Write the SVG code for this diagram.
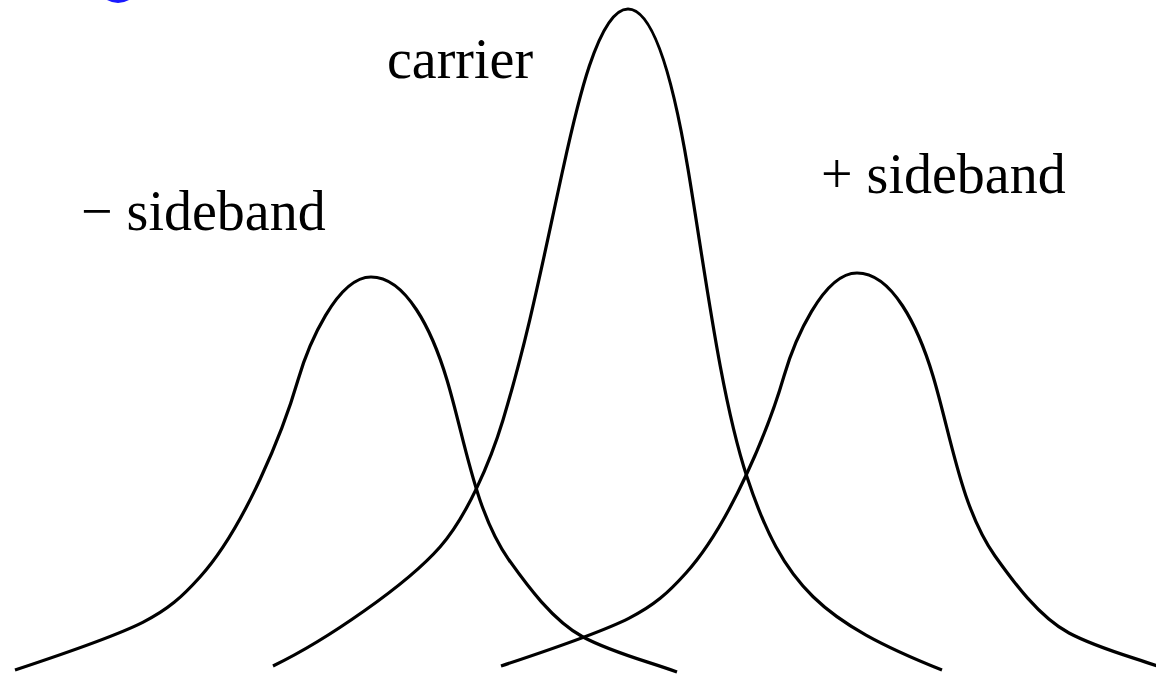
<svg xmlns="http://www.w3.org/2000/svg" width="1156" height="678" viewBox="0 0 1156 678">
  <style>
    .curve { fill: none; stroke: #000; stroke-width: 3.2; stroke-linejoin: round; stroke-linecap: butt; }
    .lbl { font-family: "Liberation Serif", "Times New Roman", serif; font-size: 56px; fill: #000; }
  </style>
  <defs>
    <path id="sideband-shape" d="M -356 393 C -226 350 -207 340 -171 300 C -126 250 -87.5 153 -73 103 C -62.8 68 -34 0 0 0 C 35 0 61 53 76 103 C 94 163 104 235 138 283 C 155.75 308 182 344 212 360 C 242 376 276 384 306 395"/>
  </defs>
  <rect width="1156" height="678" fill="#fff"/>
  <path id="link-fragment" d="M107 0 Q118 6 129 0 Z" fill="#1a1aff"/>
  <g id="curves">
    <g id="minus-sideband-curve"><use href="#sideband-shape" class="curve" transform="translate(371 277)"/></g>
    <g id="carrier-curve"><path class="curve" transform="translate(628 9)" d="M -355 657 C -301 631 -221 575.5 -188 538 C -161.6 508 -138 454 -125 411 C -99 324.6 -84.8 250 -65 160 C -51.8 100 -30 0 0 0 C 30 0 50 100 60 160 C 76.7 260 92.6 388 119 468 C 155.3 578 194 613 314 661"/></g>
    <g id="plus-sideband-curve"><use href="#sideband-shape" class="curve" transform="translate(857 273)"/></g>
  </g>
  <g id="labels">
    <text class="lbl" x="387" y="78">carrier</text>
    <text class="lbl" x="81" y="230">− sideband</text>
    <text class="lbl" x="821" y="193">+ sideband</text>
  </g>
</svg>
